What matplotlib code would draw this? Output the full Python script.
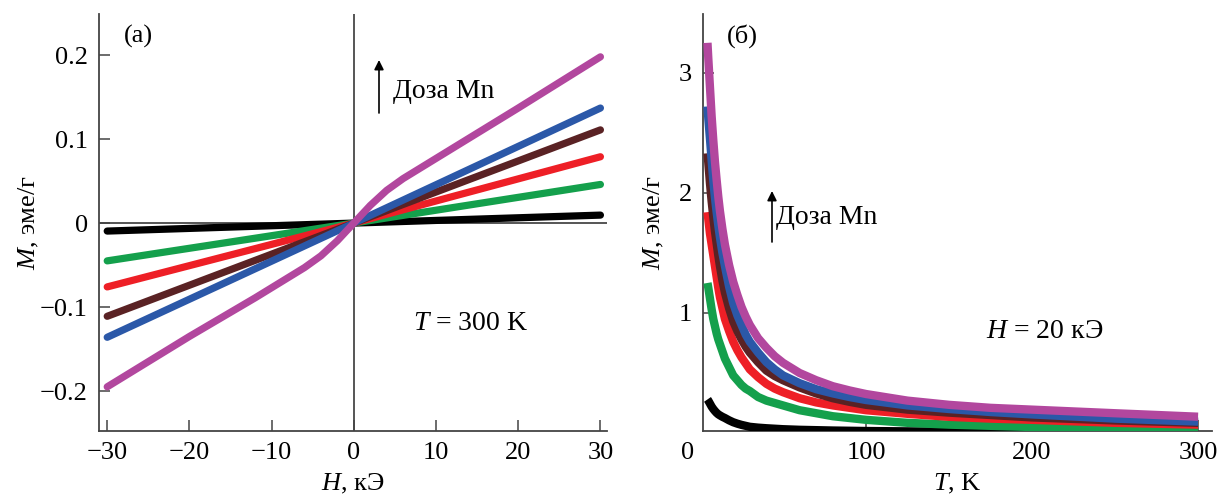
import matplotlib
matplotlib.use("Agg")
import matplotlib.pyplot as plt
import matplotlib.transforms as mtransforms

plt.rcParams['font.family'] = ['Liberation Serif', 'DejaVu Serif']
plt.rcParams['mathtext.fontset'] = 'custom'
plt.rcParams['mathtext.rm'] = 'Liberation Serif'
plt.rcParams['mathtext.it'] = 'Liberation Serif:italic'

# ---------------- panel (а): M(H) at T = 300 K ----------------
H_lin = [-30, 0, 30]
M_black = [-0.0095, 0.0, 0.0095]
M_green = [-0.045, 0.0, 0.046]
M_red = [-0.076, 0.0, 0.079]
M_brown = [-0.111, 0.0, 0.111]
M_blue = [-0.136, 0.0, 0.137]
H_purple = [-30, -20, -12, -8, -6, -4, -2, 0, 2, 4, 6, 8, 12, 20, 30]
M_purple = [-0.195, -0.135, -0.089, -0.065, -0.053, -0.039, -0.021, 0.0,
            0.021, 0.039, 0.053, 0.065, 0.089, 0.137, 0.198]

# ---------------- panel (б): M(T) at H = 20 kOe ----------------
T_pts = [4.5, 5, 6, 7, 8, 9, 10, 11, 12, 13.5, 15, 17.5, 20, 22.5, 25, 27.5, 30, 35,
         40, 45, 50, 60, 70, 80, 90, 100, 125, 150, 175, 200, 250, 300]
MT_black = [0.28, 0.27, 0.245, 0.22, 0.2, 0.183, 0.168, 0.156, 0.147, 0.135, 0.125,
            0.106, 0.09, 0.078, 0.068, 0.06, 0.052, 0.045, 0.04, 0.036, 0.032, 0.027,
            0.024, 0.021, 0.019, 0.017, 0.014, 0.012, 0.01, 0.009, 0.007, 0.006]
MT_green = [1.25, 1.21, 1.12, 1.03, 0.95, 0.89, 0.83, 0.78, 0.74, 0.68, 0.62, 0.55,
            0.48, 0.44, 0.40, 0.37, 0.35, 0.30, 0.27, 0.25, 0.23, 0.19, 0.165, 0.14,
            0.125, 0.11, 0.085, 0.07, 0.06, 0.05, 0.04, 0.035]
MT_red = [1.84, 1.78, 1.66, 1.57, 1.48, 1.39, 1.30, 1.21, 1.13, 1.04, 0.95, 0.85,
          0.76, 0.69, 0.63, 0.58, 0.53, 0.465, 0.41, 0.37, 0.34, 0.29, 0.255, 0.23,
          0.21, 0.19, 0.16, 0.135, 0.12, 0.11, 0.085, 0.07]
MT_brown = [2.33, 2.25, 2.08, 1.93, 1.80, 1.68, 1.58, 1.48, 1.39, 1.27, 1.17, 1.04,
            0.93, 0.85, 0.78, 0.72, 0.67, 0.59, 0.52, 0.475, 0.44, 0.38, 0.33, 0.29,
            0.26, 0.235, 0.195, 0.17, 0.15, 0.13, 0.105, 0.085]
MT_blue = [2.72, 2.62, 2.45, 2.27, 2.10, 1.96, 1.84, 1.73, 1.63, 1.50, 1.39, 1.22,
           1.08, 0.98, 0.90, 0.82, 0.76, 0.67, 0.59, 0.53, 0.48, 0.415, 0.365, 0.33,
           0.30, 0.275, 0.23, 0.20, 0.175, 0.155, 0.12, 0.095]
MT_purple = [3.25, 3.12, 2.88, 2.64, 2.44, 2.26, 2.11, 1.97, 1.85, 1.70, 1.57, 1.40,
             1.26, 1.15, 1.05, 0.97, 0.90, 0.79, 0.71, 0.64, 0.585, 0.50, 0.44, 0.39,
             0.355, 0.325, 0.27, 0.235, 0.21, 0.195, 0.165, 0.136]

colors = {
    'black': '#000000',
    'green': '#14a04c',
    'red': '#ee1f26',
    'brown': '#5a2224',
    'blue': '#2b58a8',
    'purple': '#b2479e',
}

xticks_a = [-30, -20, -10, 0, 10, 20, 30]
yticks_a = [-0.2, -0.1, 0, 0.1, 0.2]
yticklabels_a = ['\u22120.2', '\u22120.1', '0', '0.1', '0.2']
xticks_b = [100, 200, 300]
yticks_b = [1, 2, 3]

FS = 19
spine_col = '#444444'

fig = plt.figure(figsize=(12.21, 4.97), dpi=100)
axa = fig.add_axes([99 / 1221, 66 / 497, 508 / 1221, 417 / 497])
axb = fig.add_axes([703 / 1221, 66 / 497, 509 / 1221, 417 / 497])


def figpx(x, y):
    return (x / 1221, 1 - y / 497)


for ax in (axa, axb):
    for s in ('top', 'right'):
        ax.spines[s].set_visible(False)
    for s in ('left', 'bottom'):
        ax.spines[s].set_color(spine_col)
        ax.spines[s].set_linewidth(1.3)
    ax.tick_params(direction='in', length=8, width=1.1, color=spine_col,
                   labelsize=FS, pad=8)

# ---- panel (а)
axa.axhline(0, color='#555555', lw=1.4, zorder=1)
axa.axvline(0, color='#555555', lw=1.4, zorder=1)
lw_a = 5.2
for M, c in [(M_black, 'black'), (M_green, 'green'), (M_red, 'red'),
             (M_brown, 'brown'), (M_blue, 'blue')]:
    axa.plot(H_lin, M, color=colors[c], lw=lw_a, solid_capstyle='round', zorder=3)
axa.plot(H_purple, M_purple, color=colors['purple'], lw=lw_a,
         solid_capstyle='round', solid_joinstyle='round', zorder=4)

axa.set_xlim(-31.0, 30.8)
axa.set_ylim(-0.2476, 0.249)
axa.set_xticks(xticks_a)
axa.set_xticklabels([('\u2212' + str(-v)) if v < 0 else str(v) for v in xticks_a])
axa.set_yticks(yticks_a)
axa.set_yticklabels(yticklabels_a)
axa.set_ylabel('$M$, эме/г', fontsize=FS)
axa.yaxis.set_label_coords(-0.115, 0.5)
axa.set_xlabel('$H$, кЭ', fontsize=FS)
axa.xaxis.set_label_coords(0.5, -0.098)

fig.text(*figpx(138, 36), '(а)', fontsize=FS, ha='center', va='center')
axa.annotate('', xy=figpx(379, 60), xytext=figpx(379, 113), xycoords='figure fraction',
             textcoords='figure fraction',
             arrowprops=dict(arrowstyle='-|>', color='black', lw=1.2,
                             mutation_scale=14, shrinkA=0, shrinkB=0))
fig.text(*figpx(393, 92), 'Доза Mn', fontsize=FS + 1, ha='left', va='center')
fig.text(*figpx(413, 323), '$T$ = 300 K', fontsize=FS + 1, ha='left', va='center')

# ---- panel (б)
lw_b = 6.0
for M, c in [(MT_black, 'black'), (MT_green, 'green'), (MT_red, 'red'),
             (MT_brown, 'brown'), (MT_blue, 'blue'), (MT_purple, 'purple')]:
    axb.plot(T_pts, M, color=colors[c], lw=lw_b, solid_capstyle='butt',
             solid_joinstyle='round', zorder=3)

axb.set_xlim(1.8, 308.4)
axb.set_ylim(0.017, 3.49)
axb.set_xticks(xticks_b)
axb.set_yticks(yticks_b)
axb.set_ylabel('$M$, эме/г', fontsize=FS)
axb.yaxis.set_label_coords(-0.073, 0.5)
axb.set_xlabel('$T$, K', fontsize=FS)
axb.xaxis.set_label_coords(0.5, -0.098)
trans_b = mtransforms.blended_transform_factory(axb.transData, axb.transAxes)
axb.text(-7.2, -0.027, '0', fontsize=FS, ha='center', va='top', transform=trans_b,
         clip_on=False)

fig.text(*figpx(742, 36), '(б)', fontsize=FS, ha='center', va='center')
axb.annotate('', xy=figpx(772, 191), xytext=figpx(772, 242), xycoords='figure fraction',
             textcoords='figure fraction',
             arrowprops=dict(arrowstyle='-|>', color='black', lw=1.2,
                             mutation_scale=14, shrinkA=0, shrinkB=0))
fig.text(*figpx(776, 218), 'Доза Mn', fontsize=FS + 1, ha='left', va='center')
fig.text(*figpx(986, 331), '$H$ = 20 кЭ', fontsize=FS + 1, ha='left', va='center')

fig.savefig('out.png', dpi=100)
